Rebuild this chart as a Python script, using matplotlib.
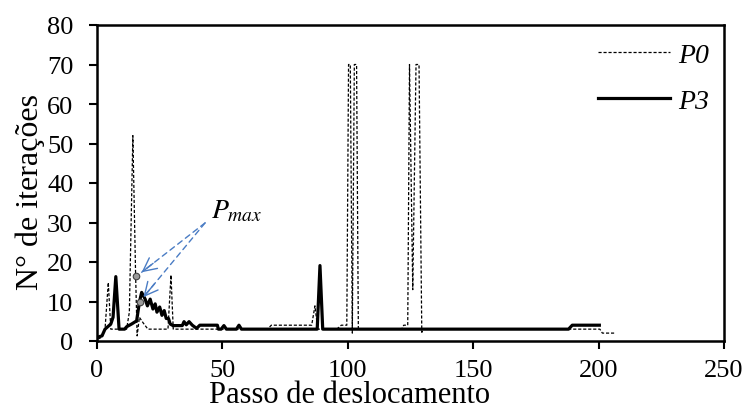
import matplotlib
matplotlib.use("Agg")
import matplotlib.pyplot as plt

# ==========================
# DATA
# ==========================

p0_x = [0.5, 2, 3.2, 4.5, 5.5, 11.8, 12.9, 14.3, 15.4, 16.0, 16.9, 18.5, 20.3,
        28.3, 29.5, 30.4, 31.5, 68, 69.5, 85.6, 86.9, 88, 95.6, 97.4, 99.6,
        100.3, 101.0, 101.8, 102.6, 103.5, 104.2, 121.5, 122.3, 123.9, 124.6,
        125.9, 127.2, 128.4, 129.5, 130.3, 200.5, 201.5, 206.5]
p0_y = [0.5, 1, 3, 14.8, 3, 3, 7.3, 52, 16.5, 1.3, 6, 4.5, 3,
        3, 16.7, 3, 3, 3, 4, 4, 8.9, 3, 3, 4, 4,
        70, 70, 2, 70, 70, 3, 3, 4, 4, 70,
        13, 70, 70, 2.2, 3, 3, 2, 2]

p3_x = [0.4, 2, 3.2, 5.5, 6.4, 7.5, 8.8, 11, 11.8, 13.8, 15.8, 16.9, 17.8,
        19.2, 20.1, 21.2, 22.3, 23.2, 23.9, 25, 25.9, 26.8, 27.6, 28.5, 29.2,
        30.3, 34, 34.7, 35.6, 36.7, 38, 39.7, 41, 48, 48.4, 49.5, 50.6, 51.6,
        55.6, 56.6, 57.6, 87.8, 88.9, 90, 188, 189.5, 200.3]
p3_y = [1, 1.3, 3, 4.3, 6, 16.3, 3, 3, 3.6, 4.3, 5.1, 9.8, 12.3,
        10.6, 8.9, 10.6, 8.1, 9.4, 7.3, 8.6, 6.5, 7.7, 5.7, 5.7, 4.3,
        3.9, 3.9, 4.9, 4.1, 4.9, 4, 3.2, 4, 4, 3, 3, 3.9, 3,
        3, 4, 3, 3, 19.1, 3, 3, 4, 4]

pmax_x = [15.4, 17.1]
pmax_y = [16.5, 9.9]
arrow_tail = (43.1, 29.9)
arrow_heads = [(17.8, 17.4), (18.5, 11.1)]

x_ticks = [0, 50, 100, 150, 200, 250]
y_ticks = [0, 10, 20, 30, 40, 50, 60, 70, 80]

# ==========================
# PLOT
# ==========================

plt.rcParams["font.family"] = ["Liberation Serif", "DejaVu Serif"]
plt.rcParams["mathtext.fontset"] = "stix"

fig = plt.figure(figsize=(7.48, 4.10), dpi=100)
ax = fig.add_axes([97 / 748, 68 / 410, 627 / 748, 316 / 410])

ax.plot(p0_x, p0_y, color="black", lw=0.9, linestyle=(0, (2.5, 1.5)), label="P0")
ax.plot(p3_x, p3_y, color="black", lw=2.3, label="P3")

blue = "#4A7CC4"
for hx, hy in arrow_heads:
    ax.annotate("", xy=(hx, hy), xytext=arrow_tail,
                arrowprops=dict(arrowstyle="-", color=blue, lw=1.0,
                                linestyle=(0, (4, 3)), shrinkA=0, shrinkB=0))
    bx = hx + 0.18 * (arrow_tail[0] - hx)
    by = hy + 0.18 * (arrow_tail[1] - hy)
    ax.annotate("", xy=(hx, hy), xytext=(bx, by),
                arrowprops=dict(arrowstyle="->", color=blue, lw=1.0,
                                mutation_scale=24, shrinkA=0, shrinkB=0))

ax.scatter(pmax_x, pmax_y, s=22, facecolor="#9A9A9A", edgecolor="#404040",
           linewidth=0.8, zorder=5)
ax.text(55.8, 33.0, r"$P_{max}$", fontsize=20, ha="center", va="center")

ax.set_xlim(0, 250)
ax.set_ylim(0, 80)
ax.set_xticks(x_ticks)
ax.set_yticks(y_ticks)
ax.tick_params(direction="out", length=6, width=1.5, labelsize=19)
ax.tick_params(axis="y", pad=11)
ax.tick_params(axis="x", pad=7)
for s in ax.spines.values():
    s.set_linewidth(1.8)

fig.text(30 / 748, 1 - 192 / 410, "N° de iterações", rotation=90,
         ha="center", va="center", fontsize=23)
fig.text(350 / 748, 7 / 410, "Passo de deslocamento",
         ha="center", va="baseline", fontsize=22)

ax.legend(loc="upper right", bbox_to_anchor=(1.016, 1.025), frameon=False,
          handlelength=2.6, labelspacing=0.75, handletextpad=0.3,
          prop={"style": "italic", "size": 20})

fig.savefig("out.png", dpi=100)
